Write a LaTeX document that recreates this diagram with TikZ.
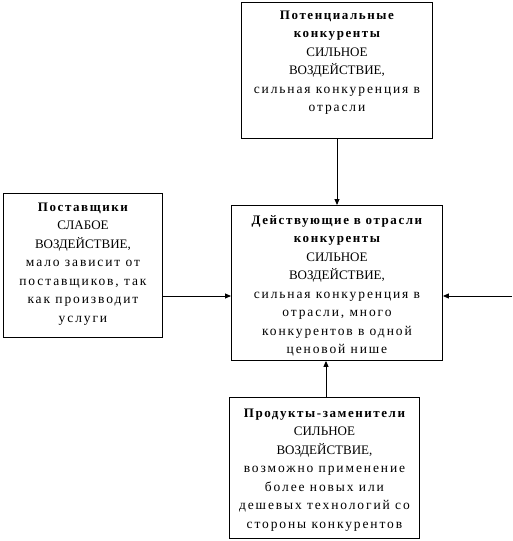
\documentclass[tikz,border=0pt]{standalone}
\usepackage{fontspec}
\setmainfont{Liberation Serif}
\newfontfamily\hdfam{Liberation Serif}[LetterSpace=12]
\newfontfamily\smfam{Liberation Serif}[LetterSpace=14]
\usetikzlibrary{arrows.meta}
\newcommand{\bx}[4]{\parbox[c][#2][t]{#1}{\centering\setlength{\baselineskip}{18.5pt}\vspace*{#3}#4}}
\newcommand{\hd}[1]{{\hdfam\fontsize{13}{18.5}\selectfont\bfseries\strut #1}}
\newcommand{\cp}[1]{{\fontsize{13}{18.5}\selectfont #1}}
\newcommand{\sm}[1]{{\smfam\fontsize{13.5}{18.5}\selectfont #1}}
\begin{document}
\begin{tikzpicture}[x=1pt,y=-1pt,
  boxst/.style={draw,line width=0.9pt,anchor=north west,inner sep=0pt,align=center},
  arr/.style={line width=0.9pt,-{Triangle[length=6pt,width=5pt]}}]
\useasboundingbox (0,0) rectangle (512,541);
\node[boxst,minimum width=191pt,minimum height=136pt] (pot) at (241,2)
 {\bx{189pt}{134pt}{3pt}{\hd{Потенциальные}\\\hd{конкуренты}\\\cp{СИЛЬНОЕ}\\\cp{ВОЗДЕЙСТВИЕ,}\\\sm{сильная конкуренция в}\\\sm{отрасли}}};
\node[boxst,minimum width=159pt,minimum height=144pt] (post) at (3,193)
 {\bx{157pt}{142pt}{4pt}{\hd{Поставщики}\\\cp{СЛАБОЕ}\\\cp{ВОЗДЕЙСТВИЕ,}\\\sm{мало зависит от}\\\sm{поставщиков, так}\\\sm{как производит}\\\sm{услуги}}};
\node[boxst,minimum width=211pt,minimum height=155pt] (act) at (231,205)
 {\bx{209pt}{153pt}{5pt}{\hd{Действующие в отрасли}\\\hd{конкуренты}\\\cp{СИЛЬНОЕ}\\\cp{ВОЗДЕЙСТВИЕ,}\\\sm{сильная конкуренция в}\\\sm{отрасли, много}\\\sm{конкурентов в одной}\\\sm{ценовой нише}}};
\node[boxst,minimum width=190pt,minimum height=141pt] (sub) at (229,397)
 {\bx{188pt}{139pt}{6pt}{\hd{Продукты-заменители}\\\cp{СИЛЬНОЕ}\\\cp{ВОЗДЕЙСТВИЕ,}\\\sm{возможно применение}\\\sm{более новых или}\\\sm{дешевых технологий со}\\\sm{стороны конкурентов}}};
\coordinate (rt) at (512,296);
\draw[arr] (pot.south -| 337,0) -- (act.north -| 337,0);
\draw[arr] (post.east |- 0,296) -- (act.west |- 0,296);
\draw[arr] (rt) -- (act.east |- rt);
\draw[arr] (sub.north -| 326,0) -- (act.south -| 326,0);
\end{tikzpicture}
\end{document}
